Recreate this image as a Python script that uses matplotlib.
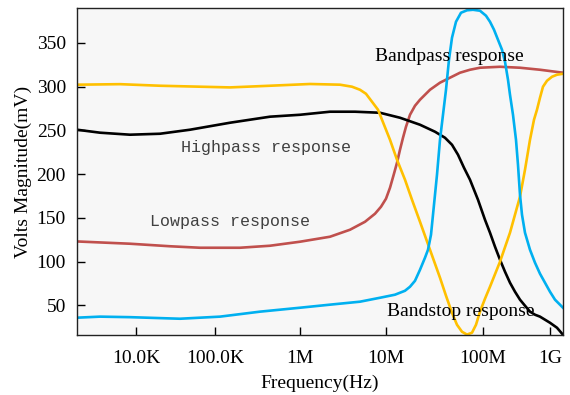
import matplotlib.pyplot as plt

# x positions along the (log) frequency axis, in axis units
tick_pos = [59, 138, 223, 309, 406, 473]
tick_labels = ['10.0K', '100.0K', '1M', '10M', '100M', '1G']
y_ticks = [50, 100, 150, 200, 250, 300, 350]

# Bandstop response (yellow)
bs_x = [0, 43, 83, 123, 153, 193, 233, 263, 275, 283, 289, 295, 301, 307, 313,
        320, 328, 335, 343, 353, 363, 369, 375, 380, 385, 390, 395, 399, 403,
        408, 413, 423, 433, 438, 443, 448, 453, 457, 460, 463, 466, 470, 475,
        480, 486]
bs_y = [302.3, 302.9, 301.1, 300.0, 299.2, 301.1, 303.1, 302.3, 300.0, 296.5,
        291.9, 282.8, 273.7, 256.5, 239.3, 216.5, 193.6, 170.7, 145.5, 113.5,
        81.5, 60.9, 41.4, 27.7, 19.7, 16.5, 18.6, 27.7, 42.7, 57.5,
        71.2, 99.8, 133.0, 153.6, 174.2, 205.0, 239.3, 262.2, 273.7, 287.4,
        300.0, 306.8, 311.4, 313.7, 314.8]

# Highpass response (black)
hp_x = [0, 23, 53, 83, 113, 153, 193, 223, 253, 278, 303, 323, 343, 358, 368,
        375, 381, 387, 393, 401, 408, 413, 418, 423, 428, 433, 438, 443, 448,
        453, 458, 463, 473, 480, 486]
hp_y = [250.8, 247.4, 245.1, 246.2, 250.8, 258.8, 265.7, 267.9, 271.4, 271.4,
        270.2, 264.5, 256.5, 248.5, 241.6, 233.6, 222.2, 207.3, 193.6, 170.7,
        147.8, 133.0, 117.0, 102.1, 88.4, 75.8, 65.5, 56.4, 49.5, 42.7,
        39.2, 37.0, 30.0, 24.3, 16.3]

# Lowpass response (red)
lp_x = [0, 53, 93, 123, 163, 193, 223, 253, 273, 288, 298, 304, 309, 313, 317,
        320, 323, 326, 329, 333, 338, 343, 348, 353, 363, 373, 383, 393, 403,
        423, 443, 463, 486]
lp_y = [123.0, 120.4, 117.5, 115.8, 115.8, 118.1, 122.7, 128.4, 136.4, 145.5,
        154.7, 162.7, 171.9, 184.4, 200.5, 213.0, 227.9, 241.6, 254.2, 267.9,
        278.2, 285.1, 290.8, 296.5, 304.6, 310.3, 316.0, 319.4, 321.7, 322.8,
        321.7, 319.4, 316.0]

# Bandpass response (blue)
bp_x = [0, 23, 53, 103, 143, 183, 223, 253, 283, 303, 318, 328, 333, 338, 343,
        348, 351, 354, 357, 360, 363, 366, 369, 372, 375, 379, 384, 390, 396,
        403, 409, 413, 417, 421, 425, 428, 431, 433, 436, 439, 441, 443, 445,
        448, 453, 458, 463, 468, 473, 478, 486]
bp_y = [35.8, 37.0, 36.4, 34.6, 37.0, 42.7, 47.2, 50.7, 54.1, 58.6, 62.1, 66.6,
        71.2, 78.0, 90.6, 104.4, 113.5, 130.7, 165.0, 199.3, 239.3, 267.9,
        296.5, 330.9, 356.0, 374.3, 384.6, 387.4, 388.0, 386.9, 381.2, 374.3,
        365.2, 353.7, 342.3, 328.6, 308.0, 290.8, 267.9, 239.3, 210.7, 176.4,
        153.6, 133.0, 113.5, 98.7, 86.1, 75.8, 65.5, 56.4, 47.2]

plt.rcParams['font.family'] = ['Liberation Serif', 'DejaVu Serif']

fig = plt.figure(figsize=(5.7, 3.95), dpi=100)
ax = fig.add_axes([0.1351, 0.1519, 0.8526, 0.8278])
ax.set_facecolor('#f7f7f7')

lw = 1.9
ax.plot(lp_x, lp_y, color='#C0504D', lw=lw)
ax.plot(hp_x, hp_y, color='black', lw=lw)
ax.plot(bs_x, bs_y, color='#FFC000', lw=lw)
ax.plot(bp_x, bp_y, color='#00B0F0', lw=lw)

ax.text(372, 334, 'Bandpass response', fontsize=14, ha='center', va='center')
ax.text(384, 42.6, 'Bandstop response', fontsize=14, ha='center', va='center')
ax.text(189, 231, 'Highpass response', fontsize=12, ha='center', va='center',
        family='Liberation Mono', color='#404040')
ax.text(153, 145.6, 'Lowpass response', fontsize=12, ha='center', va='center',
        family='Liberation Mono', color='#404040')

ax.set_xlim(0, 486)
ax.set_ylim(16, 390)
ax.set_xticks(tick_pos)
ax.set_xticklabels(tick_labels)
ax.set_yticks(y_ticks)
ax.tick_params(axis='both', direction='in', length=6, width=1, labelsize=14)
ax.tick_params(axis='x', pad=11)
ax.tick_params(axis='y', pad=8)
for s in ax.spines.values():
    s.set_color('#222222')
    s.set_linewidth(1)

ax.set_xlabel('Frequency(Hz)', fontsize=14, labelpad=5)
ax.set_ylabel('Volts Magnitude(mV)', fontsize=14, labelpad=3)

fig.savefig('out.png', dpi=100)
